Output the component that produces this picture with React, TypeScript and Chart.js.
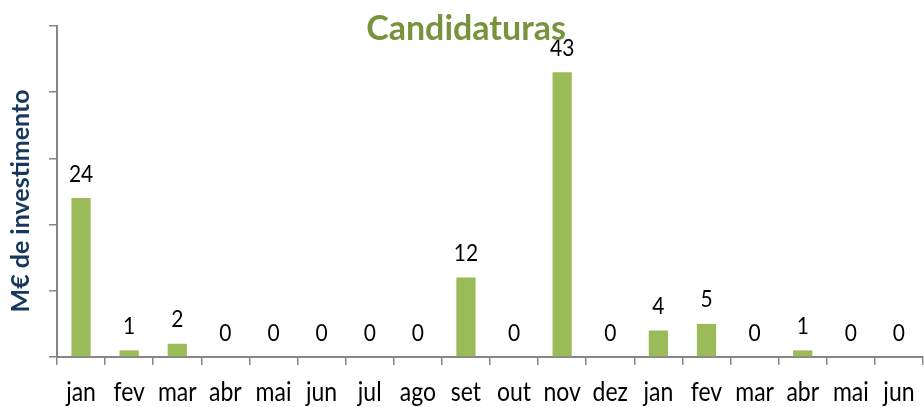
import React, { useEffect, useRef } from "react";
import { Chart, registerables } from "chart.js";

Chart.register(...registerables);

const categories = ["jan", "fev", "mar", "abr", "mai", "jun", "jul", "ago", "set", "out", "nov", "dez", "jan", "fev", "mar", "abr", "mai", "jun"];
const values = [24, 1, 2, 0, 0, 0, 0, 0, 12, 0, 43, 0, 4, 5, 0, 1, 0, 0];
const chartTitle = "Candidaturas";
const yAxisTitle = "M€ de investimento";

const overlayPlugin = {
  id: "overlay",
  afterDatasetsDraw(chart: any) {
    const ctx = chart.ctx;
    const meta = chart.getDatasetMeta(0);
    const xs = chart.scales.x;
    ctx.save();
    ctx.fillStyle = "#000000";
    ctx.textAlign = "center";
    ctx.textBaseline = "alphabetic";
    // data labels
    ctx.font = "21px Lato";
    meta.data.forEach((bar: any, i: number) => {
      ctx.save();
      ctx.translate(bar.x, bar.y - 16.5);
      ctx.scale(1, 1.1);
      ctx.fillText(String(values[i]), 0, 0);
      ctx.restore();
    });
    // x labels
    ctx.font = "23px Lato";
    categories.forEach((c, i) => {
      ctx.save();
      ctx.translate(xs.getPixelForValue(i), 401);
      ctx.scale(1, 1.2);
      ctx.fillText(c, 0, 0);
      ctx.restore();
    });
    // title
    ctx.font = "bold 34px Lato";
    ctx.fillStyle = "#77933C";
    ctx.fillText(chartTitle, 466, 40);
    // y axis title
    ctx.translate(21, 201);
    ctx.rotate(-Math.PI / 2);
    ctx.font = "bold 25px Lato";
    ctx.fillStyle = "#17375E";
    ctx.textBaseline = "middle";
    ctx.fillText(yAxisTitle, 0, 0);
    ctx.restore();
  },
};

export default function App() {
  const ref = useRef<HTMLCanvasElement>(null);
  useEffect(() => {
    if (!ref.current) return;
    const chart = new Chart(ref.current, {
      type: "bar",
      data: {
        labels: categories,
        datasets: [
          {
            data: values,
            backgroundColor: "#9BBB59",
            barPercentage: 0.4,
            categoryPercentage: 1,
          },
        ],
      },
      options: {
        animation: false,
        responsive: false,
        layout: { padding: { top: 26, right: 1, left: 0, bottom: 0 } },
        plugins: { legend: { display: false }, title: { display: false }, tooltip: { enabled: false } },
        scales: {
          x: {
            offset: true,
            grid: { display: true, drawOnChartArea: false, drawTicks: true, tickLength: 8, color: "#868686", lineWidth: 1.5, offset: true },
            border: { color: "#868686", width: 2 },
            ticks: { display: false, autoSkip: false },
            afterFit: (s: any) => { s.height = 50; },
          },
          y: {
            min: 0,
            max: 50,
            grid: { display: true, drawOnChartArea: false, drawTicks: true, tickLength: 8, color: "#868686", lineWidth: 1.5 },
            border: { color: "#868686", width: 2 },
            ticks: { stepSize: 10, display: false },
            afterFit: (s: any) => { s.width = 57; },
          },
        },
      },
      plugins: [overlayPlugin],
    });
    return () => chart.destroy();
  }, []);
  return (
    <div style={{ position: "fixed", left: 0, top: 0, width: 924, height: 407, background: "#fff" }}>
      <canvas ref={ref} width={924} height={407} style={{ width: 924, height: 407 }} />
    </div>
  );
}
